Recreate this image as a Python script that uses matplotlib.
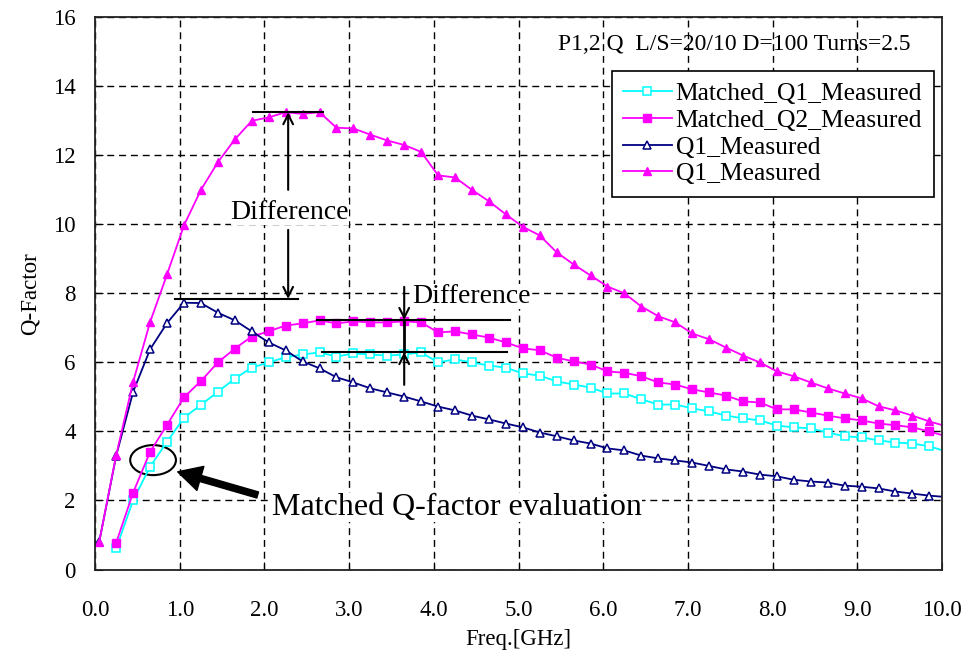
import matplotlib.pyplot as plt
from matplotlib.patches import Ellipse

plt.rcParams['font.family'] = ['Liberation Serif', 'DejaVu Serif']

# frequency points [GHz]
freq = [0.05, 0.25, 0.45, 0.65, 0.85, 1.05, 1.25, 1.45, 1.65, 1.85,
        2.05, 2.25, 2.45, 2.65, 2.85, 3.05, 3.25, 3.45, 3.65, 3.85,
        4.05, 4.25, 4.45, 4.65, 4.85, 5.05, 5.25, 5.45, 5.65, 5.85,
        6.05, 6.25, 6.45, 6.65, 6.85, 7.05, 7.25, 7.45, 7.65, 7.85,
        8.05, 8.25, 8.45, 8.65, 8.85, 9.05, 9.25, 9.45, 9.65, 9.85, 10.05]

# Matched Q1 / Q2 start at 0.25 GHz
matched_q1 = [0.61, 2.01, 2.98, 3.70, 4.40, 4.77, 5.15, 5.53, 5.85,
              6.00, 6.15, 6.23, 6.29, 6.17, 6.26, 6.23, 6.20, 6.23, 6.29,
              6.00, 6.09, 6.00, 5.91, 5.85, 5.68, 5.62, 5.45, 5.36, 5.27,
              5.10, 5.10, 4.93, 4.78, 4.78, 4.67, 4.58, 4.46, 4.38, 4.32,
              4.17, 4.12, 4.09, 3.97, 3.86, 3.83, 3.74, 3.68, 3.65, 3.57, 3.42]
matched_q2 = [0.78, 2.23, 3.41, 4.19, 4.99, 5.46, 6.00, 6.40, 6.75,
              6.90, 7.07, 7.13, 7.22, 7.13, 7.19, 7.16, 7.16, 7.19, 7.16,
              6.87, 6.90, 6.81, 6.72, 6.58, 6.41, 6.35, 6.14, 6.03, 5.94,
              5.74, 5.70, 5.60, 5.42, 5.36, 5.22, 5.13, 5.04, 4.87, 4.84,
              4.64, 4.64, 4.55, 4.46, 4.38, 4.32, 4.23, 4.18, 4.12, 4.00, 3.86]
q1_meas = [0.81, 3.30, 5.15, 6.38, 7.14, 7.73, 7.72, 7.44, 7.22, 6.90,
           6.58, 6.35, 6.03, 5.83, 5.57, 5.42, 5.25, 5.13, 5.01, 4.87,
           4.72, 4.61, 4.46, 4.35, 4.23, 4.12, 3.97, 3.86, 3.74, 3.65,
           3.51, 3.45, 3.30, 3.22, 3.16, 3.10, 3.00, 2.90, 2.84, 2.75,
           2.70, 2.60, 2.55, 2.52, 2.43, 2.40, 2.35, 2.26, 2.20, 2.14, 2.10]
q1_meas_b = [0.81, 3.32, 5.44, 7.17, 8.55, 9.97, 11.00, 11.80, 12.46, 13.00,
             13.10, 13.25, 13.20, 13.25, 12.80, 12.78, 12.60, 12.43, 12.30, 12.10,
             11.42, 11.36, 11.00, 10.67, 10.29, 9.93, 9.68, 9.19, 8.84, 8.52,
             8.20, 8.00, 7.62, 7.34, 7.16, 6.84, 6.67, 6.43, 6.20, 6.00,
             5.74, 5.60, 5.42, 5.25, 5.10, 4.96, 4.73, 4.61, 4.46, 4.29, 4.15]

xticks = [0, 1, 2, 3, 4, 5, 6, 7, 8, 9, 10]
xlabels = ["0.0", "1.0", "2.0", "3.0", "4.0", "5.0", "6.0", "7.0", "8.0", "9.0", "10.0"]
yticks = [0, 2, 4, 6, 8, 10, 12, 14, 16]

fig = plt.figure(figsize=(9.61, 6.55), dpi=100)
ax = fig.add_axes([0.0989, 0.1305, 0.8814, 0.8431])

mk = slice(0, -1)
ax.plot(freq[1:], matched_q1, color='#00FFFF', lw=1.3, marker='s', ms=5.5,
        mfc='white', mec='#00FFFF', mew=1.1, markevery=mk, label='Matched_Q1_Measured')
ax.plot(freq[1:], matched_q2, color='#FF00FF', lw=1.3, marker='s', ms=5.5,
        markevery=mk, label='Matched_Q2_Measured')
ax.plot(freq, q1_meas, color='#000080', lw=1.3, marker='^', ms=6,
        mfc='white', mec='#000080', mew=1.1, markevery=mk, label='Q1_Measured')
ax.plot(freq, q1_meas_b, color='#FF00FF', lw=1.3, marker='^', ms=6,
        markevery=mk, label='Q1_Measured')

ax.set_xlim(0, 10)
ax.set_ylim(0, 16)
ax.set_xticks(xticks)
ax.set_xticklabels(xlabels)
ax.set_yticks(yticks)
ax.tick_params(axis='x', direction='in', length=6, pad=22, labelsize=16.5)
ax.tick_params(axis='y', direction='in', length=6, pad=14, labelsize=16.5)
ax.grid(True, color='black', ls=(0, (5, 3.5)), lw=1.0)
for s in ax.spines.values():
    s.set_linewidth(1.3)
    s.set_color('#222222')

ax.set_xlabel('Freq.[GHz]', fontsize=16.5)
ax.set_ylabel('Q-Factor', fontsize=16.5)
ax.xaxis.set_label_coords(0.5, -0.107)
ax.yaxis.set_label_coords(-0.064, 0.5)

ax.text(5.47, 15.2, 'P1,2 Q  L/S=20/10 D=100 Turns=2.5', fontsize=17,
        va='center', ha='left', zorder=1)

leg = ax.legend(loc='upper right', bbox_to_anchor=(0.99, 0.903), fontsize=18.4,
                fancybox=False, framealpha=1, edgecolor='black',
                handlelength=1.9, handletextpad=0.15, borderpad=0.45,
                borderaxespad=0, labelspacing=0.15)
leg.get_frame().set_linewidth(1.2)

# difference markers (outer pair)
ax.plot([1.87, 2.69], [13.25, 13.25], color='black', lw=1.5)
ax.plot([0.945, 2.40], [7.84, 7.84], color='black', lw=1.5)
arr = dict(arrowstyle='->, head_length=0.7, head_width=0.35', color='black',
           lw=1.5, shrinkA=0, shrinkB=0)
ax.annotate('', xy=(2.28, 13.25), xytext=(2.28, 11.0), arrowprops=arr)
ax.annotate('', xy=(2.28, 7.84), xytext=(2.28, 9.84), arrowprops=arr)
ax.text(2.30, 10.33, 'Difference', fontsize=20, ha='center', va='center',
        bbox=dict(facecolor='white', edgecolor='none', pad=0))

# difference markers (matched pair)
ax.plot([2.62, 4.90], [7.23, 7.23], color='black', lw=1.5)
ax.plot([2.68, 4.86], [6.30, 6.30], color='black', lw=1.5)
ax.plot([3.65, 3.65], [7.23, 6.30], color='black', lw=2.0)
ax.annotate('', xy=(3.65, 7.23), xytext=(3.65, 8.19), arrowprops=arr)
ax.annotate('', xy=(3.65, 6.30), xytext=(3.65, 5.35), arrowprops=arr)
ax.text(3.75, 7.9, 'Difference', fontsize=20, ha='left', va='center',
        bbox=dict(facecolor='white', edgecolor='none', pad=0))

# matched Q-factor evaluation
ax.add_patch(Ellipse((0.685, 3.17), 0.54, 0.87, fill=False, ec='black', lw=1.5))
ax.annotate('', xy=(0.976, 2.83), xytext=(1.92, 2.16),
            arrowprops=dict(facecolor='black', edgecolor='black', width=4.5,
                            headwidth=18, headlength=17, shrink=0))
ax.text(2.09, 1.81, 'Matched Q-factor evaluation', fontsize=23, ha='left',
        va='center', bbox=dict(facecolor='white', edgecolor='none', pad=0))

fig.savefig('out.png', dpi=100)
